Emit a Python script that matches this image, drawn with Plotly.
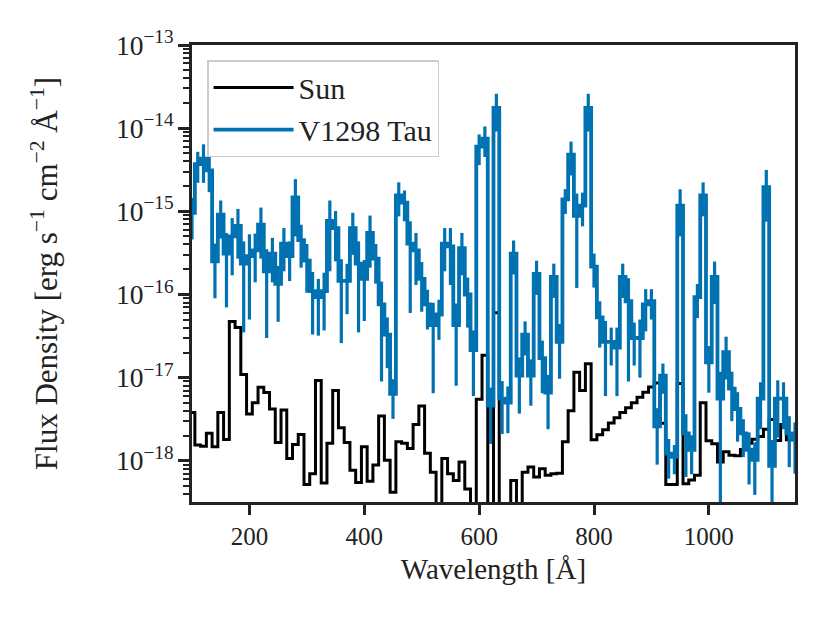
import numpy as np
import plotly.graph_objects as go

# wavelength grid (bin centres, Angstrom)
wavelength = np.arange(100, 1151, 10)

sun_flux = [
    3.8e-18, 1.55e-18, 1.5e-18, 2.15e-18, 1.48e-18, 3.8e-18, 1.8e-18, 4.75e-17, 4.0e-17, 1.09e-17,
    3.65e-18, 5.0e-18, 7.65e-18, 6.65e-18, 4.2e-18, 1.66e-18, 4.1e-18, 1.07e-18, 1.57e-18, 2.08e-18,
    5.2e-19, 7.0e-19, 9.25e-18, 5.4e-19, 1.63e-18, 7.0e-18, 2.5e-18, 1.66e-18, 7.7e-19, 5.5e-19,
    1.48e-18, 5.7e-19, 8.9e-19, 3.45e-18, 1.02e-18, 4.2e-19, 1.7e-18, 1.63e-18, 1.41e-18, 2.73e-18,
    4.57e-18, 1.23e-18, 7.3e-19, 0, 1.07e-18, 7.0e-19, 5.8e-19, 9.7e-19, 4.6e-19, 0,
    5.5e-18, 1.86e-17, 0, 6.05e-17, 0, 0, 5.8e-19, 0, 7.3e-19, 8.45e-19,
    6.4e-19, 8.05e-19, 6.7e-19, 7.0e-19, 7.1e-19, 1.7e-18, 4.0e-18, 1.16e-17, 7.0e-18, 1.47e-17,
    1.79e-18, 2.06e-18, 2.37e-18, 2.86e-18, 3.29e-18, 3.8e-18, 4.36e-18, 5.0e-18, 5.8e-18, 6.7e-18,
    7.7e-18, 8.6e-18, 2.83e-18, 5.2e-19, 5.2e-19, 8.5e-18, 5.3e-19, 5.9e-19, 6.7e-19, 5.0e-18,
    1.75e-18, 1.6e-18, 9.7e-19, 1.29e-18, 1.17e-18, 1.15e-18, 1.37e-18, 1.63e-18, 1.82e-18, 1.96e-18,
    2.4e-18, 3.15e-18, 1.76e-18, 2.73e-18, 1.79e-18, 1.8e-18,
]

v1298_flux = [
    9.6e-16, 3.7e-15, 4.3e-15, 3.1e-15, 2.5e-16, 9.1e-16, 3.1e-16, 5.0e-16, 6.7e-16, 2.35e-16,
    2.9e-16, 3.4e-16, 6.9e-16, 1.9e-16, 3.1e-16, 1.34e-16, 4.1e-16, 2.9e-16, 1.47e-15, 4.5e-16,
    2.55e-16, 1.1e-16, 9.3e-17, 1.1e-16, 7.7e-16, 6.3e-16, 1.46e-16, 1.46e-16, 6.3e-16, 2.35e-16,
    1.54e-16, 5.5e-16, 2.7e-16, 7.6e-17, 3.3e-17, 6.4e-18, 1.55e-15, 1.27e-15, 4.1e-16, 3.4e-16,
    1.54e-16, 7.6e-17, 4.3e-17, 5.75e-17, 4.1e-16, 3.8e-16, 4.3e-17, 3.6e-16, 1.0e-16, 2.15e-17,
    6.0e-15, 7.5e-15, 4.6e-18, 1.75e-14, 5.6e-18, 5.0e-18, 3.1e-16, 1.06e-17, 3.3e-17, 1.06e-17,
    1.77e-16, 1.72e-17, 6.6e-18, 1.63e-16, 2.7e-17, 1.39e-15, 4.8e-15, 8.8e-16, 1.17e-15, 1.75e-14,
    2.16e-16, 5.3e-17, 2.7e-17, 2.7e-17, 2.3e-17, 1.63e-16, 8.3e-17, 3.0e-17, 3.0e-17, 7.6e-17,
    8.3e-17, 2.6e-18, 1.06e-17, 1.22e-18, 1.12e-18, 1.17e-15, 2.14e-18, 1.36e-18, 9.3e-17, 1.55e-15,
    1.53e-17, 1.63e-16, 5.6e-18, 2.03e-17, 7.4e-18, 4.2e-18, 2.14e-18, 1.36e-18, 1.03e-18, 5.6e-18,
    1.95e-15, 8.7e-19, 5.6e-18, 5.6e-18, 2.14e-18, 1.8e-18,
]

v1298_err = [
    5.0e-16, 1.5e-15, 2.1e-15, 1.4e-15, 1.6e-16, 4.4e-16, 2.4e-16, 3.3e-16, 4.0e-16, 2.0e-16,
    2.4e-16, 2.0e-16, 4.2e-16, 1.6e-16, 1.7e-16, 8.7e-17, 2.2e-16, 1.45e-16, 9.7e-16, 2.4e-16,
    1.5e-16, 7.7e-17, 6.1e-17, 7.3e-17, 5.8e-16, 3.8e-16, 1.2e-16, 8.8e-17, 3.3e-16, 2.0e-16,
    1.06e-16, 3.4e-16, 1.35e-16, 6.7e-17, 2.0e-17, 3.2e-18, 6.8e-16, 5.1e-16, 3.5e-16, 2.1e-16,
    9.2e-17, 3.8e-17, 3.65e-17, 2.9e-17, 2.2e-16, 2.5e-16, 3.5e-17, 1.9e-16, 6.0e-17, 1.55e-17,
    2.4e-15, 3.0e-15, 3.0e-18, 8.4e-15, 3.5e-18, 2.85e-18, 1.36e-16, 6.9e-18, 1.45e-17, 6.0e-18,
    7.8e-17, 1.07e-17, 4.2e-18, 7.2e-17, 1.73e-17, 4.6e-16, 2.1e-15, 7.6e-16, 5.1e-16, 8.4e-15,
    9.5e-17, 3.0e-17, 2.1e-17, 1.3e-17, 1.7e-17, 7.2e-17, 7.4e-17, 1.6e-17, 2.0e-17, 4.0e-17,
    3.3e-17, 1.7e-18, 4.2e-18, 6.1e-19, 4.3e-19, 6.7e-16, 1.5e-18, 6.7e-19, 4.1e-17, 6.8e-16,
    8.7e-18, 8.6e-17, 6.2e-18, 1.08e-17, 4.4e-18, 2.5e-18, 1.03e-18, 8.4e-19, 6.4e-19, 3.2e-18,
    1.2e-15, 9.1e-19, 3.7e-18, 3.2e-18, 1.3e-18, 1.1e-18,
]

x_ticks = [200, 400, 600, 800, 1000]

BLUE = '#0072B2'
INK = '#222222'
FONT = 'Liberation Serif'

# matplotlib clips non-positive values on a log axis, so send them far below the frame
sun_plot = [v if v > 0 else 1e-30 for v in sun_flux]

fig = go.Figure()
fig.add_trace(go.Scatter(
    x=wavelength, y=sun_plot, name='Sun', mode='lines',
    line=dict(color='black', width=3, shape='hvh'),
))
fig.add_trace(go.Scatter(
    x=wavelength, y=v1298_flux, name='V1298 Tau', mode='lines',
    line=dict(color=BLUE, width=3.8, shape='hvh'),
    error_y=dict(type='data', array=v1298_err, symmetric=True,
                 thickness=3.2, width=0, color=BLUE),
))

# page body has an 8px margin, so the figure is a bit smaller than the window
fig.update_layout(
    width=822, height=615,
    margin=dict(l=184, r=35, t=37, b=121),
    paper_bgcolor='white', plot_bgcolor='white',
    font=dict(family=FONT, size=24, color=INK),
    showlegend=True,
    legend=dict(
        x=0.025, y=0.967, xanchor='left', yanchor='top',
        bgcolor='rgba(255,255,255,0.8)', bordercolor='#cccccc', borderwidth=1.5,
        font=dict(family=FONT, size=30, color=INK),
        itemwidth=80, tracegroupgap=0,
    ),
)

fig.update_xaxes(
    range=[100, 1150], tickvals=x_ticks,
    showline=True, linewidth=3, linecolor=INK, mirror=True,
    ticks='outside', ticklen=10, tickwidth=2.5, tickcolor=INK,
    showgrid=False, zeroline=False,
    tickfont=dict(family=FONT, size=25, color=INK),
    title=dict(text='Wavelength [Å]', font=dict(family=FONT, size=29, color=INK), standoff=10),
)

fig.update_yaxes(
    type='log', range=[np.log10(3.2e-19), -13], dtick=1,
    exponentformat='power',
    showline=True, linewidth=3, linecolor=INK, mirror=True,
    ticks='outside', ticklen=11, tickwidth=2.5, tickcolor=INK,
    minor=dict(ticks='outside', ticklen=6, tickwidth=1.8, tickcolor=INK, dtick='D1', showgrid=False),
    showgrid=False, zeroline=False,
    tickfont=dict(family=FONT, size=22, color=INK),
    title=dict(text='Flux Density [erg s<sup>−1</sup> cm<sup>−2</sup> Å<sup>−1</sup>]',
               font=dict(family=FONT, size=31, color=INK), standoff=50),
)

fig.write_html('out.html')
